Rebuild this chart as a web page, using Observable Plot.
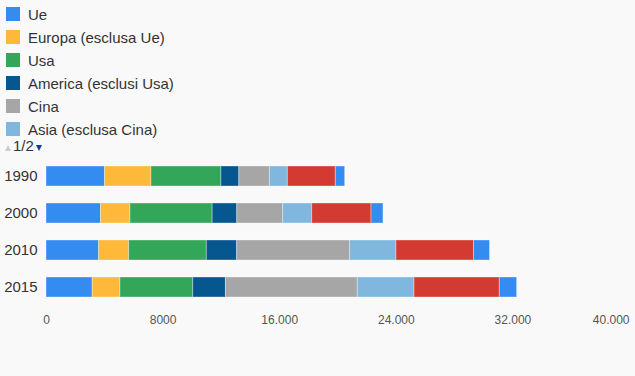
<!DOCTYPE html>
<html>
<head>
<meta charset="utf-8">
<script src="https://cdn.jsdelivr.net/npm/d3@7"></script>
<script src="https://cdn.jsdelivr.net/npm/@observablehq/plot@0.6"></script>
<style>
  html, body { margin: 0; padding: 0; background: #f9f9f9; }
  body { width: 635px; height: 376px; overflow: hidden; font-family: "Liberation Sans", Arial, sans-serif; }
  #legend { position: relative; height: 155px; }
  .item { position: absolute; left: 6px; height: 23px; display: flex; align-items: center; font-size: 15px; color: #333; }
  .sw { width: 14px; height: 14px; margin-right: 8px; }
  #pager { position: absolute; left: 5px; top: 138px; font-size: 15px; line-height: 16px; color: #333; height: 16px; }
  #pager span { display: inline-block; vertical-align: baseline; }
  #pager .up { width: 0; height: 0; border-left: 3px solid transparent; border-right: 3px solid transparent; border-bottom: 6px solid #cccccc; margin-right: 2px; }
  #pager .down { width: 0; height: 0; border-left: 3px solid transparent; border-right: 3px solid transparent; border-top: 6px solid #143b9c; margin-left: 2px; }
  svg { display: block; }
</style>
</head>
<body>
<div id="legend"></div>
<div id="chart"></div>
<script>
const years = ["1990", "2000", "2010", "2015"];
const seriesNames = ["Ue", "Europa (esclusa Ue)", "Usa", "America (esclusi Usa)", "Cina", "Asia (esclusa Cina)", "Resto del mondo", "Trasporti internazionali"];
const seriesColors = ["#348cf0", "#ffb93a", "#34a65a", "#06568f", "#a6a6a6", "#7fb7de", "#d33a32", "#348cf0"];
const ue      = [4020, 3740, 3610, 3170];
const europa  = [3180, 2020, 2060, 1900];
const usa     = [4800, 5640, 5330, 5000];
const america = [1230, 1690, 2080, 2240];
const cina    = [2100, 3150, 7750, 9050];
const asia    = [1230, 1990, 3180, 3890];
const resto   = [3290, 4070, 5320, 5850];
const bunker  = [640, 820, 1100, 1190];
const xTicks = [0, 8000, 16000, 24000, 32000, 40000];
const legendPage = "1/2";

const seriesValues = [ue, europa, usa, america, cina, asia, resto, bunker];
const rows = [];
years.forEach((y, i) => {
  seriesNames.forEach((s, j) => rows.push({year: y, series: s, value: seriesValues[j][i]}));
});

// Legend (page 1 of 2)
const legend = document.getElementById("legend");
seriesNames.slice(0, 6).forEach((s, j) => {
  const d = document.createElement("div");
  d.className = "item";
  d.style.top = (2.5 + j * 23) + "px";
  d.innerHTML = `<span class="sw" style="background:${seriesColors[j]}"></span><span>${s}</span>`;
  legend.appendChild(d);
});
const pager = document.createElement("div");
pager.id = "pager";
pager.innerHTML = `<span class="up"></span><span>${legendPage}</span><span class="down"></span>`;
legend.appendChild(pager);

const fmt = d => d >= 10000 ? d3.format(",")(d).replace(/,/g, ".") : String(d);

const chart = Plot.plot({
  width: 635,
  height: 221,
  marginLeft: 46,
  marginRight: 6,
  marginTop: 6,
  marginBottom: 74,
  style: {background: "transparent", fontFamily: "'Liberation Sans', Arial, sans-serif"},
  x: {domain: [0, 40000], axis: null},
  y: {domain: years, paddingInner: 0.45, paddingOuter: 0.1, axis: null},
  color: {domain: seriesNames, range: seriesColors},
  marks: [
    Plot.barX(rows, Plot.stackX({x: "value", y: "year", z: "series", fill: "series", stroke: "#ffffff", strokeOpacity: 0.35, strokeWidth: 1, order: null})),
    Plot.axisY({tickSize: 0, tickPadding: 9, fontSize: 15, color: "#333", label: null}),
    Plot.axisX({ticks: xTicks.slice(0, -1), tickFormat: fmt, tickSize: 0, tickPadding: 13, fontSize: 12, color: "#555", label: null}),
    Plot.axisX({ticks: xTicks.slice(-1), tickFormat: fmt, tickSize: 0, tickPadding: 13, fontSize: 12, color: "#555", label: null, textAnchor: "end"})
  ]
});
document.getElementById("chart").appendChild(chart);
</script>
</body>
</html>
